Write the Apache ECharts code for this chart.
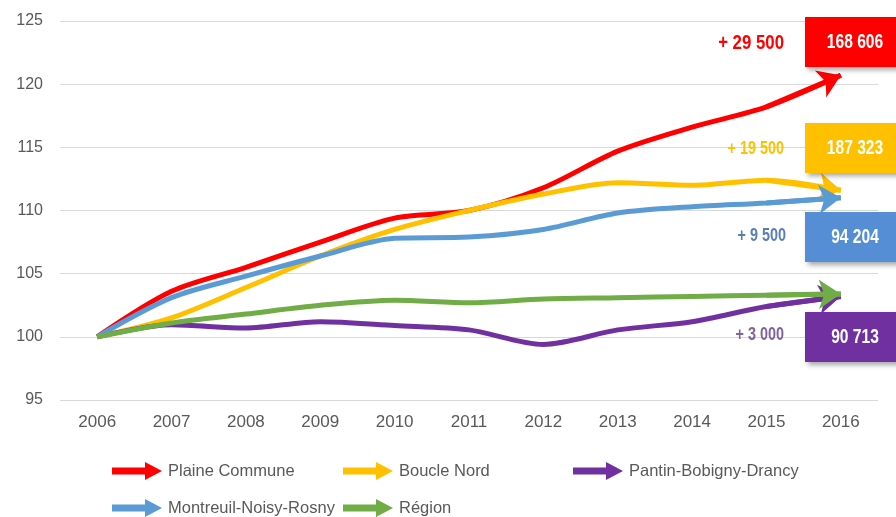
<!DOCTYPE html>
<html><head><meta charset="utf-8">
<script src="https://cdn.jsdelivr.net/npm/echarts@6/dist/echarts.min.js"></script>
<style>html,body{margin:0;padding:0;background:#fff}#c{width:896px;height:517px}</style>
</head><body><div id="c"></div>
<script>
const years = ['2006','2007','2008','2009','2010','2011','2012','2013','2014','2015','2016'];
const seriesNames = ['Plaine Commune','Boucle Nord','Pantin-Bobigny-Drancy','Montreuil-Noisy-Rosny','Région'];
const plaineCommune = [100,103.6,105.5,107.5,109.4,110.0,111.8,114.7,116.6,118.2,120.7];
const boucleNord    = [100,101.5,103.9,106.4,108.5,110.0,111.3,112.2,112.0,112.4,111.6];
const pantinBobigny = [100,100.95,100.7,101.2,100.9,100.55,99.4,100.55,101.2,102.4,103.2];
const montreuil     = [100,103.1,104.8,106.4,107.8,107.9,108.5,109.8,110.3,110.6,111.0];
const region        = [100,101.1,101.8,102.5,102.9,102.7,103.0,103.1,103.2,103.3,103.4];
const colors = ['#FF0000','#FFC000','#7030A0','#5B9BD5','#70AD47'];
const gainLabels = ['+ 29 500','+ 19 500','+ 3 000','+ 9 500'];
const totalLabels = ['168 606','187 323','90 713','94 204'];
const yTicks = {min:95, max:125, interval:5};

const allData = [plaineCommune, boucleNord, pantinBobigny, montreuil, region];
const arial = "'Liberation Sans',Arial,sans-serif";
const arrowIcon = 'path://M0,5.5 L33,5.5 L33,0 L50,9 L33,18 L33,12.5 L0,12.5 Z';

const series = [];
allData.forEach((d,i)=>{
  series.push({
    name: seriesNames[i], type:'line', data:d, smooth:0.3, symbol:'none',
    lineStyle:{color:colors[i], width:5}, itemStyle:{color:colors[i]}, z:2+i
  });
});
allData.forEach((d,i)=>{
  const n = d.length;
  series.push({
    name: seriesNames[i], type:'lines', coordinateSystem:'cartesian2d',
    symbol:['none','arrow'], symbolSize:[18,22],
    lineStyle:{color:colors[i], width:5, opacity:1}, z:2+i,
    data:[{coords:[[n-2,d[n-2]],[n-1,d[n-1]]]}]
  });
});

const legendPos = [[112,462],[343,462],[573,462],[112,499],[343,499]];
const legends = seriesNames.map((nm,i)=>({
  data:[{name:nm, icon:arrowIcon, itemStyle:{color:colors[i]}}],
  left:legendPos[i][0], top:legendPos[i][1], padding:0,
  itemWidth:50, itemHeight:18, itemGap:4, selectedMode:false,
  textStyle:{color:'#595959', fontSize:16.5, fontFamily:arial, padding:[0,0,0,1]}
}));

const boxTops = [17,123,312,212];
const gainTops = [43,149,335,236];
const gainRight = [784,784,784,786];
const gainColors = ['#FF0000','#FFC000','#7F62A0','#5A7DB5'];
const boxColors = ['#FF0000','#FFC000','#7030A0','#558ED5'];
const gainSizes = [21,18,18,18];
const graphic = [];
for (let i=0;i<4;i++){
  graphic.push({type:'rect', left:805, top:boxTops[i], shape:{width:100,height:50},
    style:{fill:boxColors[i], shadowBlur:5, shadowOffsetX:3, shadowOffsetY:3, shadowColor:'rgba(0,0,0,0.35)'}, z:10});
  graphic.push({type:'text', x:855, y:boxTops[i]+25, scaleX:0.78, style:{text:totalLabels[i], fill:'#fff',
    font:"bold 20px "+arial, align:'center', verticalAlign:'middle'}, z:11});
  graphic.push({type:'text', x:gainRight[i], y:gainTops[i], scaleX:0.8, style:{text:gainLabels[i], fill:gainColors[i],
    font:"bold "+gainSizes[i]+"px "+arial, align:'right', verticalAlign:'middle'}, z:11});
}

const chart = echarts.init(document.getElementById('c'));
chart.setOption({
  animation:false,
  grid:{left:60, right:18, top:21, bottom:117},
  xAxis:{type:'category', data:years, boundaryGap:true,
    axisLine:{show:false}, axisTick:{show:false},
    axisLabel:{color:'#595959', fontSize:17, fontFamily:arial, margin:14}},
  yAxis:{type:'value', min:yTicks.min, max:yTicks.max, interval:yTicks.interval,
    axisLine:{show:false}, axisTick:{show:false},
    axisLabel:{color:'#595959', fontSize:16, fontFamily:arial, margin:17},
    splitLine:{lineStyle:{color:'#D9D9D9', width:1}}},
  legend:legends,
  series:series,
  graphic:graphic
});
</script></body></html>
